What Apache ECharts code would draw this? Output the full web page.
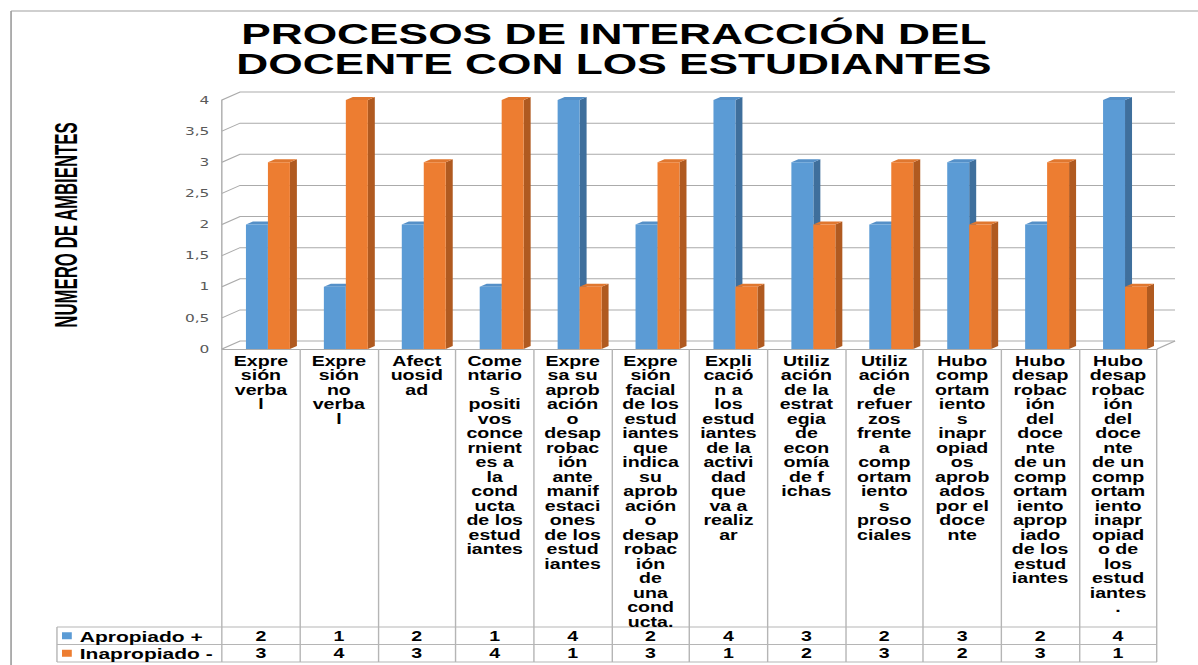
<!DOCTYPE html>
<html><head><meta charset="utf-8">
<script src="https://cdn.jsdelivr.net/npm/echarts@6/dist/echarts.min.js"></script>
<style>
html,body{margin:0;padding:0;background:#fff;overflow:hidden;width:1198px;height:665px}
#c{width:856px;height:665px;transform:scaleX(1.39953);transform-origin:0 0}
</style></head><body><div id="c"></div>
<script>
// ---------- data ----------
const titleLines = ['PROCESOS DE INTERACCIÓN DEL', 'DOCENTE CON LOS ESTUDIANTES'];
const yAxisTitle = 'NUMERO DE AMBIENTES';
const categories = [
  'Expre\nsión\nverba\nl',
  'Expre\nsión\nno\nverba\nl',
  'Afect\nuosid\nad',
  'Come\nntario\ns\npositi\nvos\nconce\nrnient\nes a\nla\ncond\nucta\nde los\nestud\niantes',
  'Expre\nsa su\naprob\nación\no\ndesap\nrobac\nión\nante\nmanif\nestaci\nones\nde los\nestud\niantes',
  'Expre\nsión\nfacial\nde los\nestud\niantes\nque\nindica\nsu\naprob\nación\no\ndesap\nrobac\nión\nde\nuna\ncond\nucta.',
  'Expli\ncació\nn a\nlos\nestud\niantes\nde la\nactivi\ndad\nque\nva a\nrealiz\nar',
  'Utiliz\nación\nde la\nestrat\negia\nde\necon\nomía\nde f\nichas',
  'Utiliz\nación\nde\nrefuer\nzos\nfrente\na\ncomp\nortam\niento\ns\nproso\nciales',
  'Hubo\ncomp\nortam\niento\ns\ninapr\nopiad\nos\naprob\nados\npor el\ndoce\nnte',
  'Hubo\ndesap\nrobac\nión\ndel\ndoce\nnte\nde un\ncomp\nortam\niento\naprop\niado\nde los\nestud\niantes',
  'Hubo\ndesap\nrobac\nión\ndel\ndoce\nnte\nde un\ncomp\nortam\niento\ninapr\nopiad\no de\nlos\nestud\niantes\n.'
];
const seriesNames = ['Apropiado +', 'Inapropiado -'];
const apropiado   = [2, 1, 2, 1, 4, 2, 4, 3, 2, 3, 2, 4];
const inapropiado = [3, 4, 3, 4, 1, 3, 1, 2, 3, 2, 3, 1];
const yTicks      = [0, 0.5, 1, 1.5, 2, 2.5, 3, 3.5, 4];
const yTickLabels = ['0', '0,5', '1', '1,5', '2', '2,5', '3', '3,5', '4'];

// ---------- styling / layout ----------
const W = 856, H = 665;
const GRID = {left: 158.6, right: 29.3, top: 100, bottom: 316};
const WALL_DX = 12.9, WALL_DY = -8;
const BAR_W = 15.7, BAR_DX = 5, BAR_DY = -3, BAR_SHIFT = 5;
const WALL_COLOR = '#ababab', TABLE_COLOR = '#b5b5b5';
const COLORS = [
  {front: '#5B9BD5', side: '#3F6F9C', top: '#5590C8'},
  {front: '#ED7D31', side: '#B05A20', top: '#E0772F'}
];
const TABLE_TOP = 627, ROW_H = 17.5, TABLE_BOTTOM = TABLE_TOP + 2 * ROW_H;
const LEGEND_LEFT = 40.7;
const GRID_RIGHT_X = W - GRID.right;
const FONT = "'Liberation Sans', Arial, sans-serif";

function barRender(k) {
  return function (params, api) {
    const i = api.value(0), v = api.value(1);
    const top = api.coord([i, v]);
    const base = api.coord([i, 0]);
    const x0 = top[0] + BAR_SHIFT + (k === 0 ? -BAR_W : 0);
    const x1 = x0 + BAR_W;
    const yt = top[1], yb = base[1];
    const c = COLORS[k];
    return {type: 'group', children: [
      {type: 'polygon', shape: {points: [[x1, yt], [x1 + BAR_DX, yt + BAR_DY], [x1 + BAR_DX, yb + BAR_DY], [x1, yb]]}, style: {fill: c.side}},
      {type: 'polygon', shape: {points: [[x0, yt], [x0 + BAR_DX, yt + BAR_DY], [x1 + BAR_DX, yt + BAR_DY], [x1, yt]]}, style: {fill: c.top}},
      {type: 'rect', shape: {x: x0, y: yt, width: BAR_W, height: yb - yt}, style: {fill: c.front}}
    ]};
  };
}

function wallRender(params, api) {
  const cs = params.coordSys;
  const t = api.value(1);
  const y = api.coord([0, t])[1];
  const xl = cs.x, xr = cs.x + cs.width;
  const ch = [{type: 'polyline', shape: {points: [[xl, y], [xl + WALL_DX, y + WALL_DY], [xr + WALL_DX, y + WALL_DY]]},
               style: {stroke: WALL_COLOR, fill: null, lineWidth: 1}}];
  if (t === 0) ch.push({type: 'line', shape: {x1: xr, y1: y, x2: xr + WALL_DX, y2: y + WALL_DY}, style: {stroke: WALL_COLOR, lineWidth: 1}});
  return {type: 'group', children: ch};
}

function tableRender(params, api) {
  const i = api.value(0);
  const cx = api.coord([i, 0])[0];
  const vals = [api.value(1), api.value(2)];
  return {type: 'group', children: vals.map((v, r) => ({
    type: 'text',
    style: {text: String(v), x: cx, y: TABLE_TOP + ROW_H * r + ROW_H / 2 + 0.5, align: 'center', verticalAlign: 'middle',
            font: 'bold 14px ' + FONT, fill: '#000'}
  }))};
}

const graphics = [
  // outer frame
  {type: 'line', shape: {x1: 7.9, y1: 11, x2: 7.9, y2: H}, style: {stroke: '#a0a0a0', lineWidth: 1.2}, silent: true},
  {type: 'line', shape: {x1: 7.9, y1: 11, x2: W, y2: 11}, style: {stroke: '#a0a0a0', lineWidth: 1.2}, silent: true},
  // y axis title (compressed along its length like a narrow face)
  {type: 'text', x: 47.1, y: 225, rotation: Math.PI / 2, scaleX: 0.73,
   style: {text: yAxisTitle, align: 'center', verticalAlign: 'middle', font: 'bold 23px ' + FONT, fill: '#000'}},
  // table rows
  {type: 'line', shape: {x1: LEGEND_LEFT, y1: TABLE_TOP, x2: GRID_RIGHT_X, y2: TABLE_TOP}, style: {stroke: TABLE_COLOR}},
  {type: 'line', shape: {x1: LEGEND_LEFT, y1: TABLE_TOP + ROW_H, x2: GRID_RIGHT_X, y2: TABLE_TOP + ROW_H}, style: {stroke: TABLE_COLOR}},
  {type: 'line', shape: {x1: LEGEND_LEFT, y1: TABLE_BOTTOM, x2: GRID_RIGHT_X, y2: TABLE_BOTTOM}, style: {stroke: TABLE_COLOR}},
  {type: 'line', shape: {x1: LEGEND_LEFT, y1: TABLE_TOP, x2: LEGEND_LEFT, y2: TABLE_BOTTOM}, style: {stroke: TABLE_COLOR}}
];
// title, one text per line
titleLines.forEach((t, k) => {
  graphics.push({type: 'text', x: 438.6, y: 34 + 30 * k, scaleX: 1.055, originX: 0,
    style: {text: t, align: 'center', verticalAlign: 'middle', font: 'bold 30px ' + FONT, fill: '#000'}});
});
seriesNames.forEach((n, r) => {
  const yc = TABLE_TOP + ROW_H * r + ROW_H / 2;
  graphics.push({type: 'rect', shape: {x: 44.3, y: yc - 3.5, width: 7, height: 7}, style: {fill: COLORS[r].front}});
  graphics.push({type: 'text', x: 57, y: yc + 0.5, style: {text: n, align: 'left', verticalAlign: 'middle', font: 'bold 15px ' + FONT, fill: '#000'}});
});

const chart = echarts.init(document.getElementById('c'), null, {renderer: 'svg', width: W, height: H});
chart.setOption({
  animation: false,
  backgroundColor: '#fff',
  grid: GRID,
  xAxis: {
    type: 'category', data: categories, boundaryGap: true,
    axisLine: {show: true, lineStyle: {color: WALL_COLOR}},
    axisTick: {show: true, interval: 0, length: TABLE_BOTTOM - (H - GRID.bottom), lineStyle: {color: TABLE_COLOR}},
    axisLabel: {interval: 0, margin: 5, fontSize: 14, fontWeight: 'bold', fontFamily: FONT, color: '#000', lineHeight: 14.5, verticalAlign: 'top'}
  },
  yAxis: {
    type: 'value', min: 0, max: 4, interval: 0.5,
    axisLine: {show: true, lineStyle: {color: WALL_COLOR}},
    axisTick: {show: false},
    splitLine: {show: false},
    axisLabel: {margin: 9, color: '#595959', fontFamily: "'DejaVu Sans', sans-serif", fontSize: 11,
                formatter: v => yTickLabels[yTicks.indexOf(v)]}
  },
  graphic: graphics,
  series: [
    {type: 'custom', name: 'walls', coordinateSystem: 'cartesian2d', clip: false, silent: true, z: 1,
     data: yTicks.map(t => [0, t]), renderItem: wallRender},
    {type: 'custom', name: seriesNames[0], coordinateSystem: 'cartesian2d', clip: false, z: 3,
     data: apropiado.map((v, i) => [i, v]), renderItem: barRender(0)},
    {type: 'custom', name: seriesNames[1], coordinateSystem: 'cartesian2d', clip: false, z: 4,
     data: inapropiado.map((v, i) => [i, v]), renderItem: barRender(1)},
    {type: 'custom', name: 'table', coordinateSystem: 'cartesian2d', clip: false, silent: true, z: 5,
     data: categories.map((c, i) => [i, apropiado[i], inapropiado[i]]), renderItem: tableRender}
  ]
});
</script></body></html>
